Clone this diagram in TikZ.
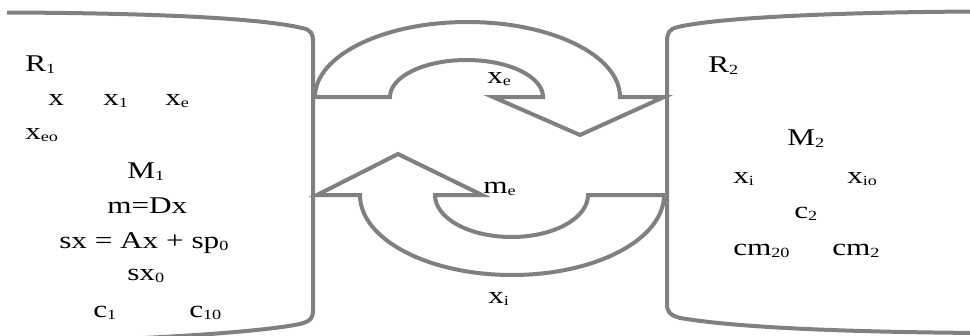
\documentclass[tikz,border=0pt]{standalone}
\usepackage{fontspec}
\setmainfont{Liberation Serif}
\definecolor{framegray}{RGB}{128,128,128}
\tikzset{
  frame-line/.style={
    draw=framegray,
    line width=4pt,
    line join=miter
  },
  var-label/.style={
    anchor=base west,
    inner sep=0pt,
    xscale=1.3,
    font=\fontsize{24}{28}\selectfont
  }
}
\newcommand{\idx}[1]{\raisebox{-2pt}{\fontsize{14}{14}\selectfont #1}}

\begin{document}
\begin{tikzpicture}[x=1pt,y=-1pt]
  \useasboundingbox (0,0) rectangle (970,335);
  \clip (0,0) rectangle (970,335);
  \draw[frame-line] (7,12.5) .. controls (150,13) and (260,18) .. (302,28)
    .. controls (311,30) and (313,33) .. (313,42) -- (313,310)
    .. controls (313,318) and (311,321) .. (300,324)
    .. controls (260,332) and (150,340) .. (-10,343);
  \draw[frame-line] (980,11.5) .. controls (850,12) and (720,17) .. (678,27)
    .. controls (669,29) and (667,33) .. (667,42) -- (667,304)
    .. controls (667,312) and (670,315) .. (680,318)
    .. controls (740,328) and (850,332) .. (980,333);
  \draw[frame-line] (315,97) arc[start angle=180, end angle=360, x radius=152.5, y radius=75]
    -- (664,97) -- (580,135) -- (493,97) -- (543,97)
    arc[start angle=0, end angle=-180, x radius=76.5, y radius=37] -- cycle;
  \draw[frame-line] (317,195) -- (398,154) -- (482,195) -- (435,195)
    arc[start angle=180, end angle=0, x radius=76.5, y radius=42]
    -- (664,195) arc[start angle=0, end angle=180, x radius=152, y radius=80] -- cycle;
  \node[var-label] (r1) at (25,71) {R\idx{1}};
  \node[var-label] (x) at (48,105) {x};
  \node[var-label] (x1) at (103,105) {x\idx{1}};
  \node[var-label] (xe1) at (165,105) {x\idx{e}};
  \node[var-label] (xeo) at (25,139) {x\idx{eo}};
  \node[var-label] (m1) at (127,178) {M\idx{1}};
  \node[var-label] (mdx) at (107,213) {m=Dx};
  \node[var-label] (sx) at (59,248) {sx = Ax + sp\idx{0}};
  \node[var-label] (sx0) at (127,280) {sx\idx{0}};
  \node[var-label] (c1) at (93,317) {c\idx{1}};
  \node[var-label] (c10) at (189,317) {c\idx{10}};
  \node[var-label] (xe) at (487,83) {x\idx{e}};
  \node[var-label] (me) at (483,193) {m\idx{e}};
  \node[var-label] (xi) at (488,303) {x\idx{i}};
  \node[var-label] (r2) at (708,72) {R\idx{2}};
  \node[var-label] (m2) at (787,145) {M\idx{2}};
  \node[var-label] (xi2) at (733,183) {x\idx{i}};
  \node[var-label] (xio) at (847,183) {x\idx{io}};
  \node[var-label] (c2) at (794,218) {c\idx{2}};
  \node[var-label] (cm20) at (733,255) {cm\idx{20}};
  \node[var-label] (cm2) at (832,255) {cm\idx{2}};
\end{tikzpicture}
\end{document}
